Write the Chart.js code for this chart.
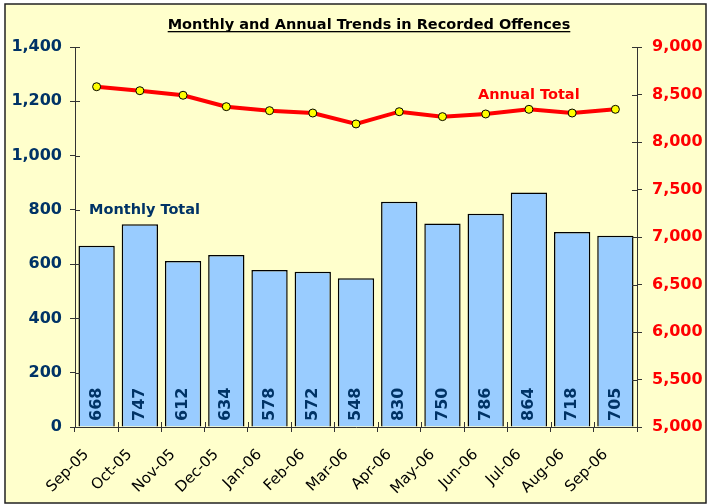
<!DOCTYPE html>
<html>
<head>
<meta charset="utf-8">
<script src="https://cdn.jsdelivr.net/npm/chart.js@4"></script>
<style>
  html, body { margin: 0; padding: 0; background: #fff; }
  #wrap { width: 708px; height: 504px; }
</style>
</head>
<body>
<div id="wrap"><canvas id="offChart" width="708" height="504"></canvas></div>
<script>
// month labels and the two series
const months = ['Sep-05', 'Oct-05', 'Nov-05', 'Dec-05', 'Jan-06', 'Feb-06', 'Mar-06',
  'Apr-06', 'May-06', 'Jun-06', 'Jul-06', 'Aug-06', 'Sep-06'];
const monthlyTotal = [668, 747, 612, 634, 578, 572, 548, 830, 750, 786, 864, 718, 705];
const annualTotal = [8582, 8540, 8492, 8372, 8330, 8305, 8190, 8319, 8267, 8295, 8344, 8305, 8344];

const FONT = '"DejaVu Sans", Verdana, sans-serif';
const NAVY = '#003366';

// background, border, title, annotations, bar labels, crossing ticks
const decor = {
  id: 'decor',
  beforeDraw(chart) {
    const c = chart.ctx;
    c.save();
    c.fillStyle = '#FFFFCC';
    c.fillRect(5, 4, 701, 499);
    c.strokeStyle = '#222';
    c.lineWidth = 1.5;
    c.strokeRect(5, 4, 701, 499);
    c.restore();
  },
  afterDraw(chart) {
    const c = chart.ctx;
    const a = chart.chartArea;
    c.save();
    // title
    c.font = 'bold 14.5px ' + FONT;
    c.fillStyle = '#000';
    c.textAlign = 'center';
    c.textBaseline = 'alphabetic';
    const t = 'Monthly and Annual Trends in Recorded Offences';
    c.fillText(t, 369, 29);
    const w = c.measureText(t).width;
    c.fillRect(369 - w / 2, 31, w, 1.3);

    // series names
    c.textAlign = 'left';
    c.font = 'bold 14.5px ' + FONT;
    c.fillStyle = NAVY;
    c.fillText('Monthly Total', 89, 214);
    c.fillStyle = '#FF0000';
    c.fillText('Annual Total', 478, 99);

    // values inside bars
    const meta = chart.getDatasetMeta(0);
    c.font = 'bold 16px ' + FONT;
    c.fillStyle = NAVY;
    meta.data.forEach((bar, i) => {
      c.save();
      c.translate(bar.x, a.bottom - 6);
      c.rotate(-Math.PI / 2);
      c.textAlign = 'left';
      c.textBaseline = 'middle';
      c.fillText(String(monthlyTotal[i]), 0, 0);
      c.restore();
    });

    // inner half of the tick marks
    c.strokeStyle = '#333';
    c.lineWidth = 1;
    const yl = chart.scales.y, yr = chart.scales.y2;
    c.beginPath();
    yl.ticks.forEach((tk, i) => {
      const py = Math.round(yl.getPixelForTick(i)) + 0.5;
      c.moveTo(a.left, py); c.lineTo(a.left + 5, py);
    });
    yr.ticks.forEach((tk, i) => {
      const py = Math.round(yr.getPixelForTick(i)) + 0.5;
      c.moveTo(a.right - 5, py); c.lineTo(a.right, py);
    });
    const step = (a.right - a.left) / months.length;
    for (let i = 0; i <= months.length; i++) {
      const px = Math.round(a.left + i * step) + 0.5;
      c.moveTo(px, a.bottom - 5); c.lineTo(px, a.bottom);
    }
    c.stroke();
    c.restore();
  }
};

const config = {
  type: 'bar',
  data: {
    labels: months,
    datasets: [
      {
        type: 'line',
        label: 'Annual Total',
        data: annualTotal,
        yAxisID: 'y2',
        borderColor: '#FF0000',
        borderWidth: 4,
        pointBackgroundColor: '#FFFF00',
        pointBorderColor: '#000',
        pointBorderWidth: 1,
        pointRadius: 4,
        tension: 0,
        order: 0
      },
      {
        type: 'bar',
        label: 'Monthly Total',
        data: monthlyTotal,
        yAxisID: 'y',
        backgroundColor: '#99CCFF',
        borderColor: '#000',
        borderWidth: 1.5,
        barPercentage: 0.84,
        categoryPercentage: 1,
        order: 1
      }
    ]
  },
  options: {
    responsive: false,
    animation: false,
    layout: { padding: { top: 47, left: 0, right: 0, bottom: 0 } },
    plugins: {
      legend: { display: false },
      tooltip: { enabled: false }
    },
    scales: {
      x: {
        offset: true,
        grid: { drawOnChartArea: false, tickLength: 5, color: '#333', offset: true },
        border: { color: '#333' },
        ticks: {
          color: '#000',
          font: { family: FONT, size: 15 },
          minRotation: 45,
          maxRotation: 45,
          labelOffset: -10,
          padding: 14
        },
        afterFit(s) { s.height = 77; }
      },
      y: {
        position: 'left',
        min: 0,
        max: 1400,
        ticks: {
          stepSize: 200,
          color: NAVY,
          font: { family: FONT, size: 16, weight: 'bold' },
          padding: 8,
          callback: v => v.toLocaleString('en-US')
        },
        grid: { drawOnChartArea: false, tickLength: 5, color: '#333' },
        border: { color: '#333' },
        afterFit(s) { s.width = 75; }
      },
      y2: {
        position: 'right',
        min: 5000,
        max: 9000,
        ticks: {
          stepSize: 500,
          color: '#FF0000',
          font: { family: FONT, size: 16, weight: 'bold' },
          padding: 10,
          callback: v => v.toLocaleString('en-US')
        },
        grid: { drawOnChartArea: false, tickLength: 5, color: '#333' },
        border: { color: '#333' },
        afterFit(s) { s.width = 71; }
      }
    }
  },
  plugins: [decor]
};

// draw
const ctx = document.getElementById('offChart').getContext('2d');
const offChart = new Chart(ctx, config);
</script>
</body>
</html>
